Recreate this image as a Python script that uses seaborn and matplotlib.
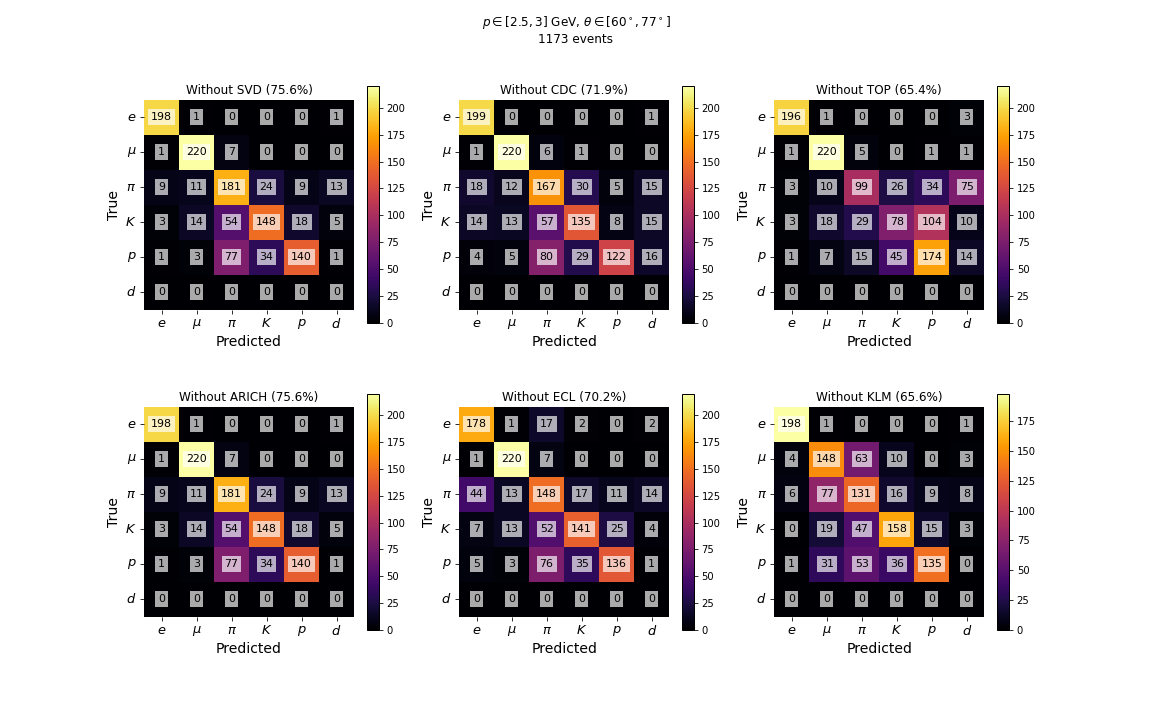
import numpy as np
import seaborn as sns
import matplotlib
matplotlib.use('Agg')
import matplotlib.pyplot as plt

labels = ['$e$', '$\\mu$', '$\\pi$', '$K$', '$p$', '$d$']

titles = ['Without SVD (75.6%)', 'Without CDC (71.9%)', 'Without TOP (65.4%)',
          'Without ARICH (75.6%)', 'Without ECL (70.2%)', 'Without KLM (65.6%)']

no_svd = [[198, 1, 0, 0, 0, 1],
          [1, 220, 7, 0, 0, 0],
          [9, 11, 181, 24, 9, 13],
          [3, 14, 54, 148, 18, 5],
          [1, 3, 77, 34, 140, 1],
          [0, 0, 0, 0, 0, 0]]

no_cdc = [[199, 0, 0, 0, 0, 1],
          [1, 220, 6, 1, 0, 0],
          [18, 12, 167, 30, 5, 15],
          [14, 13, 57, 135, 8, 15],
          [4, 5, 80, 29, 122, 16],
          [0, 0, 0, 0, 0, 0]]

no_top = [[196, 1, 0, 0, 0, 3],
          [1, 220, 5, 0, 1, 1],
          [3, 10, 99, 26, 34, 75],
          [3, 18, 29, 78, 104, 10],
          [1, 7, 15, 45, 174, 14],
          [0, 0, 0, 0, 0, 0]]

no_arich = [[198, 1, 0, 0, 0, 1],
            [1, 220, 7, 0, 0, 0],
            [9, 11, 181, 24, 9, 13],
            [3, 14, 54, 148, 18, 5],
            [1, 3, 77, 34, 140, 1],
            [0, 0, 0, 0, 0, 0]]

no_ecl = [[178, 1, 17, 2, 0, 2],
          [1, 220, 7, 0, 0, 0],
          [44, 13, 148, 17, 11, 14],
          [7, 13, 52, 141, 25, 4],
          [5, 3, 76, 35, 136, 1],
          [0, 0, 0, 0, 0, 0]]

no_klm = [[198, 1, 0, 0, 0, 1],
          [4, 148, 63, 10, 0, 3],
          [6, 77, 131, 16, 9, 8],
          [0, 19, 47, 158, 15, 3],
          [1, 31, 53, 36, 135, 0],
          [0, 0, 0, 0, 0, 0]]

matrices = [no_svd, no_cdc, no_top, no_arich, no_ecl, no_klm]

fig, axes = plt.subplots(2, 3, figsize=(16, 10), dpi=72)
fig.subplots_adjust(top=0.88, bottom=0.125, hspace=0.3, wspace=0.2)

for ax, mat, title in zip(axes.flat, matrices, titles):
    sns.heatmap(np.array(mat), ax=ax, cmap='inferno', square=True,
                annot=True, fmt='d',
                annot_kws={'color': 'black', 'fontsize': 11,
                           'bbox': dict(facecolor='white', alpha=0.67,
                                        edgecolor='none', pad=3)},
                xticklabels=labels, yticklabels=labels)
    cb = ax.collections[0].colorbar
    cb.outline.set_linewidth(1)
    cb.ax.tick_params(labelsize=10, length=4)
    ax.set_title(title, fontsize=12)
    ax.set_xlabel('Predicted', fontsize=14)
    ax.set_ylabel('True', fontsize=14)
    ax.tick_params(labelsize=13, length=4)
    ax.set_yticklabels(labels, rotation=0)
    ax.set_xticklabels(labels, rotation=0)

fig.suptitle('$p \\in [2.5, 3]$ GeV, $\\theta \\in [60^\\circ, 77^\\circ]$\n1173 events',
             fontsize=12)

plt.savefig('out.png', dpi=72)
